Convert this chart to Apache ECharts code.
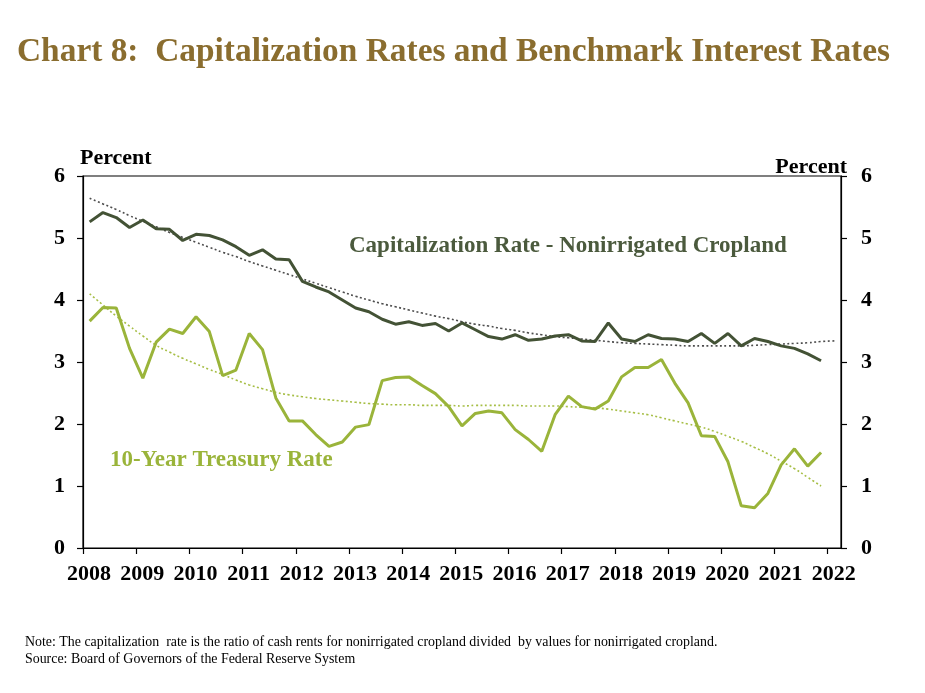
<!DOCTYPE html>
<html>
<head>
<meta charset="utf-8">
<script src="https://cdn.jsdelivr.net/npm/echarts@6/dist/echarts.min.js"></script>
<style>
html,body{margin:0;padding:0;background:#fff;}
#chart{width:925px;height:693px;}
</style>
</head>
<body>
<div id="chart"></div>
<script>
// ---- data ----
const startYear = 2008;
const yearTicks = [2008,2009,2010,2011,2012,2013,2014,2015,2016,2017,2018,2019,2020,2021,2022];
// quarterly values, 2008Q1 .. 2021Q4
const capRate = [5.26,5.41,5.33,5.17,5.29,5.15,5.14,4.96,5.06,5.04,4.97,4.86,4.72,4.81,4.66,4.65,
  4.30,4.21,4.13,4.00,3.87,3.81,3.69,3.61,3.65,3.59,3.62,3.50,3.63,3.52,3.41,3.37,
  3.44,3.35,3.37,3.42,3.44,3.34,3.33,3.63,3.37,3.33,3.44,3.38,3.37,3.33,3.46,3.30,
  3.46,3.26,3.38,3.33,3.26,3.22,3.13,3.02];
const treasury = [3.66,3.88,3.87,3.22,2.74,3.32,3.53,3.46,3.73,3.49,2.78,2.87,3.46,3.20,2.42,2.05,
  2.05,1.83,1.64,1.71,1.95,1.99,2.70,2.75,2.76,2.62,2.49,2.28,1.97,2.17,2.21,2.18,
  1.91,1.75,1.56,2.15,2.45,2.28,2.24,2.37,2.76,2.91,2.91,3.04,2.66,2.34,1.81,1.80,
  1.39,0.68,0.65,0.88,1.34,1.60,1.32,1.54];
// trend lines (dotted); cap-rate trend runs to 2022Q1
const capTrend = [5.64,5.55,5.46,5.36,5.27,5.18,5.09,5.01,4.93,4.85,4.77,4.70,4.62,4.55,4.48,4.41,
  4.34,4.27,4.20,4.13,4.06,4.00,3.94,3.89,3.84,3.79,3.74,3.70,3.65,3.61,3.58,3.54,
  3.51,3.47,3.44,3.41,3.39,3.37,3.35,3.33,3.31,3.30,3.29,3.28,3.27,3.26,3.26,3.26,
  3.26,3.26,3.27,3.28,3.29,3.30,3.31,3.33,3.34];
const treasuryTrend = [4.10,3.92,3.74,3.58,3.42,3.27,3.16,3.06,2.97,2.88,2.80,2.71,2.63,2.57,2.51,2.47,
  2.44,2.41,2.39,2.37,2.35,2.33,2.32,2.31,2.31,2.30,2.30,2.30,2.29,2.30,2.30,2.30,
  2.30,2.29,2.29,2.29,2.28,2.27,2.26,2.24,2.21,2.18,2.15,2.10,2.05,2.00,1.95,1.88,
  1.80,1.72,1.62,1.52,1.40,1.28,1.14,1.00];
const yTicks = [0,1,2,3,4,5,6];

// quarter index -> position on the year axis (mid-quarter)
function toPoints(arr){ return arr.map((v,i)=>[startYear + Math.floor(i/4) + ((i%4)+0.5)/4, v]); }

const SERIF = '"Liberation Serif","Times New Roman",serif';
const CAP = '#435235', TSY = '#9AB43A';

const chart = echarts.init(document.getElementById('chart'));
const axisLabelStyle = {fontFamily:SERIF, fontWeight:'bold', fontSize:22, color:'#000'};
chart.setOption({
  animation:false,
  backgroundColor:'#fff',
  grid:{left:83, right:84, top:176, bottom:145, show:true, borderColor:'#000', borderWidth:1.2},
  xAxis:{
    type:'value', min:yearTicks[0], max:2022.25, interval:1,
    axisLine:{lineStyle:{color:'#000', width:1.2}},
    axisTick:{length:6, lineStyle:{color:'#000', width:1.2}},
    splitLine:{show:false},
    axisLabel:Object.assign({margin:15, padding:[0,0,0,12], showMaxLabel:false,
      formatter:v=> (Number.isInteger(v) && yearTicks.includes(v)) ? String(v) : ''}, axisLabelStyle)
  },
  yAxis:[
    {type:'value', min:yTicks[0], max:yTicks[yTicks.length-1], interval:1, position:'left',
      axisLine:{show:true, lineStyle:{color:'#000', width:1.2}},
      axisTick:{show:true, length:6, lineStyle:{color:'#000', width:1.2}},
      splitLine:{show:false},
      axisLabel:Object.assign({margin:18}, axisLabelStyle)},
    {type:'value', min:yTicks[0], max:yTicks[yTicks.length-1], interval:1, position:'right',
      axisLine:{show:true, lineStyle:{color:'#000', width:1.2}},
      axisTick:{show:true, length:6, lineStyle:{color:'#000', width:1.2}},
      splitLine:{show:false},
      axisLabel:Object.assign({margin:20}, axisLabelStyle)}
  ],
  series:[
    {name:'Cap trend', type:'line', data:toPoints(capTrend), symbol:'none', smooth:true,
      lineStyle:{color:'#4d4d4d', width:1.6, type:[2,2.5]}, z:2},
    {name:'Treasury trend', type:'line', data:toPoints(treasuryTrend), symbol:'none', smooth:true,
      lineStyle:{color:'#A6BE45', width:1.6, type:[2,2.5]}, z:2},
    {name:'Capitalization Rate - Nonirrigated Cropland', type:'line', data:toPoints(capRate), symbol:'none',
      lineStyle:{color:CAP, width:3}, z:3},
    {name:'10-Year Treasury Rate', type:'line', data:toPoints(treasury), symbol:'none',
      lineStyle:{color:TSY, width:3}, z:3}
  ],
  graphic:[
    {type:'text', left:17, top:36, style:{text:'Chart 8:  Capitalization Rates and Benchmark Interest Rates',
      font:'bold 33.4px '+SERIF, fill:'#8A6D2F'}},
    {type:'text', left:80, top:147, style:{text:'Percent', font:'bold 22px '+SERIF, fill:'#000'}},
    {type:'text', right:78, top:156, style:{text:'Percent', font:'bold 22px '+SERIF, fill:'#000'}},
    {type:'text', left:349, top:235, style:{text:'Capitalization Rate - Nonirrigated Cropland',
      font:'bold 23px '+SERIF, fill:'#4B5A3D'}},
    {type:'text', left:110, top:449, style:{text:'10-Year Treasury Rate',
      font:'bold 23px '+SERIF, fill:TSY}},
    {type:'text', left:25, top:635, style:{text:'Note: The capitalization  rate is the ratio of cash rents for nonirrigated cropland divided  by values for nonirrigated cropland.',
      font:'13.9px '+SERIF, fill:'#000'}},
    {type:'text', left:25, top:652, style:{text:'Source: Board of Governors of the Federal Reserve System',
      font:'13.9px '+SERIF, fill:'#000'}}
  ]
});
</script>
</body>
</html>
